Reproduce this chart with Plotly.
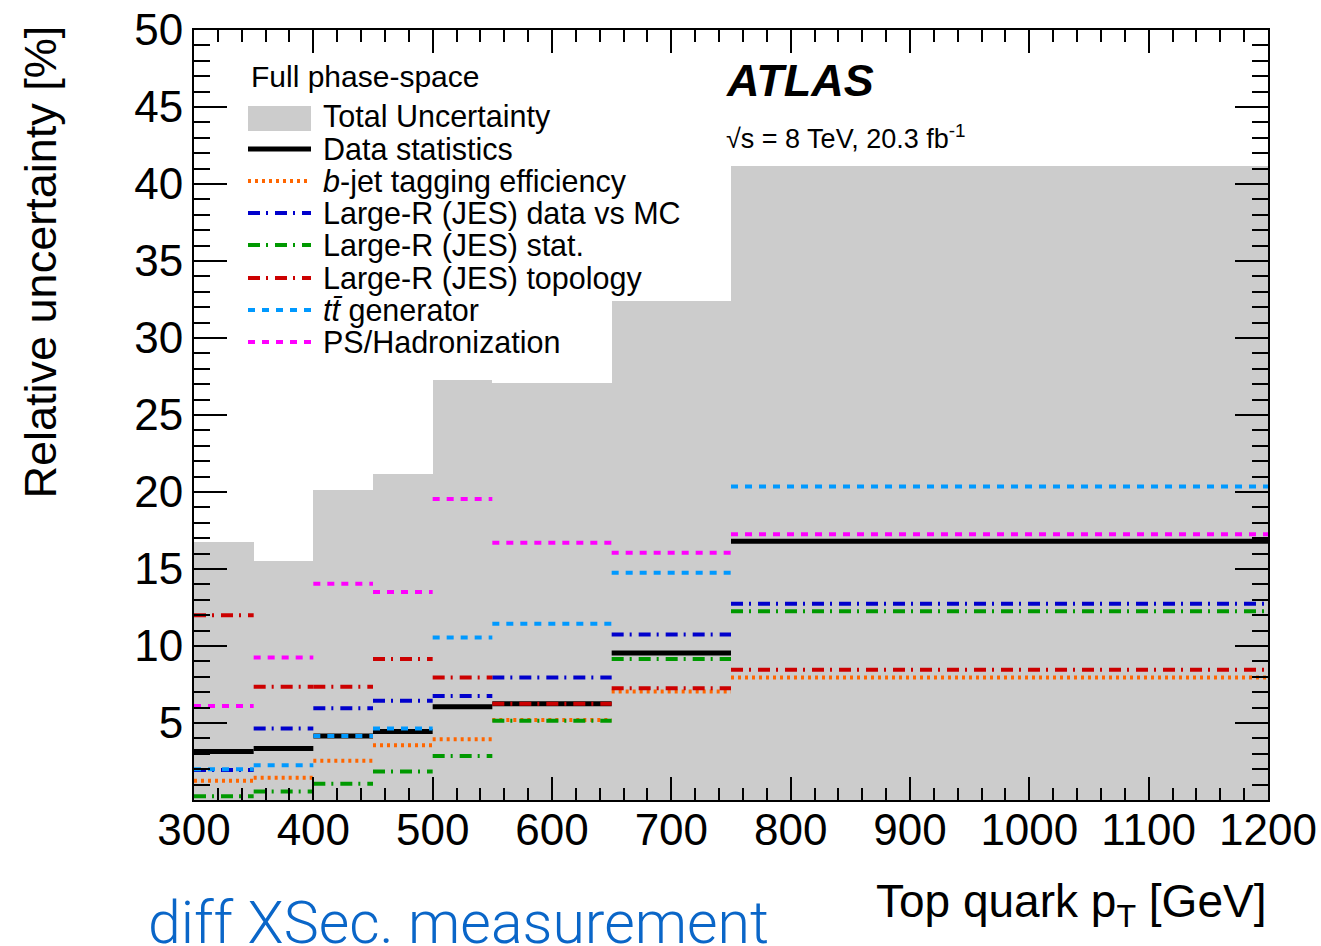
import plotly.graph_objects as go

# ---------------- data ----------------
bin_edges = [300, 350, 400, 450, 500, 550, 650, 750, 1200]

total_unc   = [16.75, 15.5, 20.1, 21.2, 27.3, 27.1, 32.4, 41.2]
data_stat   = [3.15, 3.35, 4.15, 4.45, 6.05, 6.25, 9.55, 16.8]
bjet        = [1.25, 1.45, 2.55, 3.55, 3.95, 5.2, 7.05, 7.95]
lr_datamc   = [1.95, 4.65, 5.95, 6.45, 6.75, 7.95, 10.75, 12.75]
lr_stat     = [0.25, 0.55, 1.05, 1.85, 2.85, 5.15, 9.15, 12.25]
lr_topology = [12.0, 7.35, 7.35, 9.15, 7.95, 6.25, 7.25, 8.45]
tt_gen      = [2.0, 2.25, 4.15, 4.65, 10.55, 11.45, 14.75, 20.35]
ps_had      = [6.1, 9.25, 14.05, 13.5, 19.55, 16.7, 16.05, 17.25]

legend_title = "Full phase-space"
labels = [
    "Total Uncertainty",
    "Data statistics",
    "<i>b</i>-jet tagging efficiency",
    "Large-R (JES) data vs MC",
    "Large-R (JES) stat.",
    "Large-R (JES) topology",
    "<i>tt\u0304</i> generator",
    "PS/Hadronization",
]
x_ticks = [300, 400, 500, 600, 700, 800, 900, 1000, 1100, 1200]
y_ticks = [5, 10, 15, 20, 25, 30, 35, 40, 45, 50]

# ---------------- style ----------------
FONT = "Liberation Sans, Arial, Helvetica, sans-serif"
GREY = "#cccccc"
DASHDOT = "12px,6px,2px,7px"
series = [
    (data_stat,   "black",   5, "solid"),
    (bjet,        "#ff6600", 4, "3px,4px"),
    (lr_datamc,   "#0000cc", 4, DASHDOT),
    (lr_stat,     "#009900", 4, DASHDOT),
    (lr_topology, "#cc0000", 4, DASHDOT),
    (tt_gen,      "#0099ff", 4, "7px,7px"),
    (ps_had,      "#ff00ff", 4, "7px,7px"),
]

W, H = 1321, 946
L, R, T, B = 194, 53, 30, 146
PW, PH = W - L - R, H - T - B


def px(xp):
    return (xp - L) / PW


def py(yp):
    return (T + PH - yp) / PH


fig = go.Figure()

centers = [(a + b) / 2 for a, b in zip(bin_edges[:-1], bin_edges[1:])]
widths = [b - a for a, b in zip(bin_edges[:-1], bin_edges[1:])]
fig.add_trace(go.Bar(x=centers, y=total_unc, width=widths,
                     marker=dict(color=GREY, line=dict(width=0)),
                     showlegend=False, hoverinfo="skip"))

for vals, color, lw, dash in series:
    xs, ys = [], []
    for i, v in enumerate(vals):
        xs += [bin_edges[i], bin_edges[i + 1], None]
        ys += [v, v, None]
    fig.add_trace(go.Scatter(x=xs, y=ys, mode="lines", connectgaps=False,
                             line=dict(color=color, width=lw, dash=dash),
                             showlegend=False, hoverinfo="skip"))

# ---------------- manual legend ----------------
shapes = []
annotations = []
annotations.append(dict(x=px(249), y=py(77), xref="paper", yref="paper",
                        text=legend_title, showarrow=False, xanchor="left",
                        yanchor="middle", font=dict(family=FONT, size=30, color="black")))
row_y = [117, 149, 181, 213, 245, 278, 310, 342]
shapes.append(dict(type="rect", xref="paper", yref="paper",
                   x0=px(248), x1=px(311), y0=py(131), y1=py(106),
                   fillcolor=GREY, line=dict(width=0)))
for (vals, color, lw, dash), yy in zip(series, row_y[1:]):
    shapes.append(dict(type="line", xref="paper", yref="paper",
                       x0=px(248), x1=px(311), y0=py(yy), y1=py(yy),
                       line=dict(color=color, width=lw, dash=dash)))
for lab, yy in zip(labels, row_y):
    annotations.append(dict(x=px(321), y=py(yy), xref="paper", yref="paper",
                            text=lab, showarrow=False, xanchor="left",
                            yanchor="middle", font=dict(family=FONT, size=30.5, color="black")))

# ATLAS label
annotations.append(dict(x=px(724), y=py(81), xref="paper", yref="paper",
                        text="<b><i>ATLAS</i></b>", showarrow=False, xanchor="left",
                        yanchor="middle", font=dict(family=FONT, size=45, color="black")))
annotations.append(dict(x=px(724), y=py(137), xref="paper", yref="paper",
                        text="\u221as = 8 TeV, 20.3 fb<sup>-1</sup>", showarrow=False,
                        xanchor="left", yanchor="middle",
                        font=dict(family=FONT, size=27, color="black")))
# axis titles
annotations.append(dict(x=px(40), y=py(24), xref="paper", yref="paper",
                        text="Relative uncertainty [%]", showarrow=False, textangle=-90,
                        xanchor="center", yanchor="top",
                        font=dict(family=FONT, size=45, color="black")))
annotations.append(dict(x=1.0, y=py(905), xref="paper", yref="paper",
                        text="Top quark p<sub>T</sub> [GeV]", showarrow=False,
                        xanchor="right", yanchor="middle",
                        font=dict(family=FONT, size=46, color="black")))
annotations.append(dict(x=px(146), y=py(922), xref="paper", yref="paper",
                        text="diff XSec. measurement", showarrow=False,
                        xanchor="left", yanchor="middle",
                        font=dict(family="Roboto, sans-serif", size=59, color="#0a66c8", weight=300)))

axis_common = dict(showline=True, linecolor="black", linewidth=2, mirror="ticks",
                   ticks="inside", tickcolor="black", tickwidth=2,
                   showgrid=False, zeroline=False,
                   tickfont=dict(family=FONT, size=44, color="black"))

fig.update_layout(
    width=W, height=H,
    margin=dict(l=L, r=R, t=T, b=B, autoexpand=False),
    paper_bgcolor="white", plot_bgcolor="white",
    bargap=0, showlegend=False,
    shapes=shapes, annotations=annotations,
    xaxis=dict(range=[300, 1200], tickmode="array", tickvals=x_ticks, ticklen=23,
               ticklabelstandoff=-10,
               minor=dict(tickmode="linear", tick0=300, dtick=20, ticks="inside",
                          ticklen=12, tickcolor="black", tickwidth=2),
               **axis_common),
    yaxis=dict(range=[0, 50], tickmode="array", tickvals=y_ticks,
               ticklen=33,
               minor=dict(tickmode="linear", tick0=0, dtick=1, ticks="inside",
                          ticklen=16, tickcolor="black", tickwidth=2),
               **axis_common),
)

fig.write_html("out.html")
